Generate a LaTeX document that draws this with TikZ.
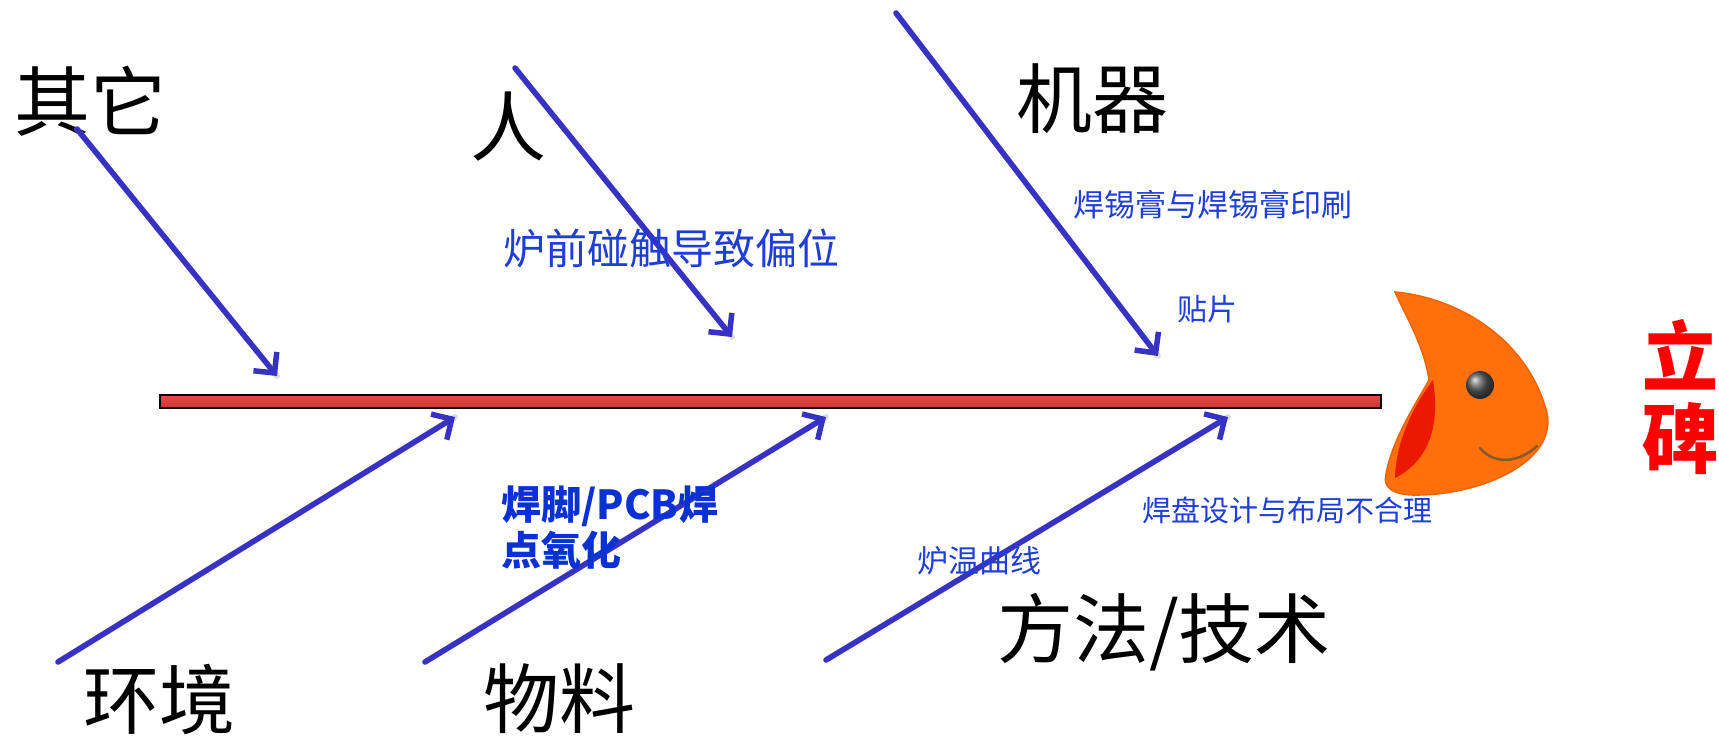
\documentclass[tikz,border=0pt]{standalone}
\usepackage{fontspec}
\newfontfamily\cjk{Noto Sans CJK SC}
\usetikzlibrary{arrows.meta, positioning}

\definecolor{bonecolor}{RGB}{55,50,195}
\definecolor{notecolor}{RGB}{30,62,215}
\definecolor{boldnote}{RGB}{10,50,210}
\definecolor{fishorange}{RGB}{255,112,12}
\definecolor{fishedge}{RGB}{240,100,0}
\definecolor{mouthred}{RGB}{235,25,0}
\definecolor{spinetop}{RGB}{236,72,72}
\definecolor{spinebot}{RGB}{200,52,52}

\tikzset{
  bone/.style={line width=5.5pt, bonecolor, line cap=round,
    -{Straight Barb[length=15pt,width=30pt]}},
  boneshade/.style={line width=6pt, black!30, opacity=0.45, line cap=round,
    shift={(2.5,2.5)}},
  cat/.style={font=\cjk\fontsize{76}{80}\selectfont, inner sep=0pt},
  note/.style={font=\cjk\fontsize{31}{36}\selectfont, text=notecolor, inner sep=0pt},
}

\begin{document}
\begin{tikzpicture}[x=1pt, y=-1pt]
  \useasboundingbox (0,0) rectangle (1719,736);

  % Hauptgraete
  \draw[line width=2pt, top color=spinetop, bottom color=spinebot] (160,395) rectangle (1381,408);

  % Kategorien
  \node[cat] (qita) at (90,101) {其它};
  \node[cat] (ren) at (508,127) {人};
  \node[cat] (jiqi) at (1092,99) {机器};
  \node[cat] (huanjing) at (159,699) {环境};
  \node[cat] (wuliao) at (559,699) {物料};
  \node[cat] (fangfa) at (1164,632) {方法/技术};

  % Endpunkte der Graeten
  \coordinate (qita-s) at (77,129);    \coordinate (qita-e) at (277,376);
  \coordinate (ren-s) at (515,68);     \coordinate (ren-e) at (732,337);
  \coordinate (jiqi-s) at (896,13);    \coordinate (jiqi-e) at (1158,356);
  \coordinate (huan-s) at (58,662);    \coordinate (huan-e) at (455,417);
  \coordinate (wuliao-s) at (425,662); \coordinate (wuliao-e) at (826,417);
  \coordinate (fang-s) at (826,660);   \coordinate (fang-e) at (1228,417);

  % Schatten
  \draw[boneshade] (qita-s) -- (qita-e);
  \draw[boneshade] (ren-s) -- (ren-e);
  \draw[boneshade] (jiqi-s) -- (jiqi-e);
  \draw[boneshade] (huan-s) -- (huan-e);
  \draw[boneshade] (wuliao-s) -- (wuliao-e);
  \draw[boneshade] (fang-s) -- (fang-e);

  % Graeten
  \draw[bone] (qita-s) -- (qita-e); % Sonstiges
  \draw[bone] (ren-s) -- (ren-e); % Mensch
  \draw[bone] (jiqi-s) -- (jiqi-e); % Maschine
  \draw[bone] (huan-s) -- (huan-e); % Umgebung
  \draw[bone] (wuliao-s) -- (wuliao-e); % Material
  \draw[bone] (fang-s) -- (fang-e); % Methode

  % Ursachen
  \node[note, font=\cjk\fontsize{42}{46}\selectfont] (pengchu) at (671,248) {炉前碰触导致偏位};
  \node[note] (gao) at (1213,205) {焊锡膏与焊锡膏印刷};
  \node[note, font=\cjk\fontsize{30}{34}\selectfont] (tiepian) at (1207,309) {贴片};
  \node[note, font=\cjk\bfseries\fontsize{40}{46}\selectfont, text=boldnote, align=left, anchor=north west] (yanghua) at (501,486) {焊脚/PCB焊\\点氧化};
  \node[note] (luwen) at (979,561) {炉温曲线};
  \node[note, font=\cjk\fontsize{29}{33}\selectfont] (hanpan) at (1287,510) {焊盘设计与布局不合理};

  % Fischkopf
  \fill[fishorange, draw=fishedge, line width=1.5pt]
    (1395,292) .. controls (1460,298) and (1528,340) .. (1547,413)
    .. controls (1557,462) and (1482,494) .. (1420,495)
    .. controls (1394,496) and (1382,488) .. (1386,474)
    .. controls (1392,440) and (1415,405) .. (1429,380)
    .. controls (1424,345) and (1405,315) .. cycle;
  \fill[mouthred] (1433,380) .. controls (1440,425) and (1430,460) .. (1395,478)
    .. controls (1396,440) and (1414,405) .. cycle; % Maul
  \shade[ball color=gray!70!black] (1480,385) circle (14); % Auge
  \draw[line width=2.5pt, brown!70!black, line cap=round]
    (1480,448) .. controls (1495,466) and (1520,462) .. (1537,446); % Laecheln

  % Ergebnis
  \node[font=\cjk\bfseries\fontsize{76}{80}\selectfont, text=red, align=center, inner sep=0pt] (libei) at (1680,397) {立\\[2pt]碑};
\end{tikzpicture}
\end{document}
